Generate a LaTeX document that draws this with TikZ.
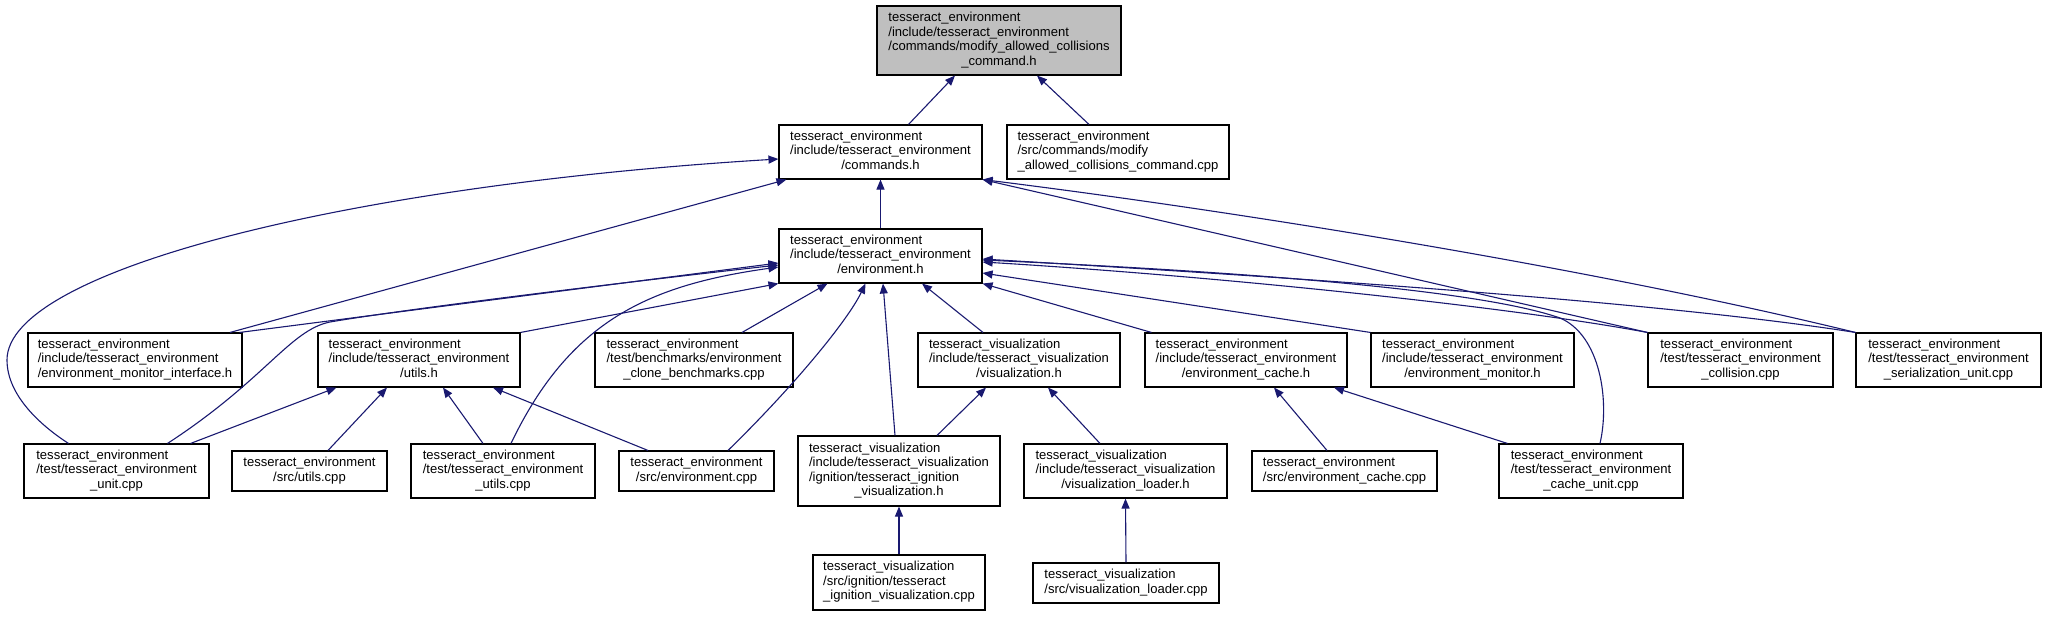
\documentclass[tikz,border=0pt]{standalone}
\usepackage{fontspec}
\setmainfont{Liberation Sans}
\usetikzlibrary{arrows.meta,calc}
\definecolor{edgec}{HTML}{191970}
\definecolor{hil}{HTML}{BFBFBF}
\newcommand{\doxlbl}[2]{\begin{tabular}{@{}l@{}}#1\\\multicolumn{1}{@{}c@{}}{#2}\end{tabular}}
\begin{document}
\begin{tikzpicture}[x=1pt,y=-1pt,
  box/.style={draw=black, line width=1.1pt, fill=white, inner sep=0pt, rectangle,
    font={\fontsize{13.05}{14.5}\selectfont}},
  dep/.style={draw=edgec, line width=1.1pt, {Triangle[length=10pt,width=8pt]}-}]
\useasboundingbox (0,0) rectangle (2046,616);

% row 0
\node[box, fill=hil, minimum width=244pt, minimum height=69pt] (T) at (999,40.5)
  {\doxlbl{tesseract\_environment\\/include/tesseract\_environment\\/commands/modify\_allowed\_collisions}{\_command.h}};
% row 1
\node[box, minimum width=203pt, minimum height=54pt] (C) at (880.5,152)
  {\doxlbl{tesseract\_environment\\/include/tesseract\_environment}{/commands.h}};
\node[box, minimum width=222pt, minimum height=54pt] (M) at (1118,152)
  {\doxlbl{tesseract\_environment\\/src/commands/modify}{\_allowed\_collisions\_command.cpp}};
% row 2
\node[box, minimum width=203pt, minimum height=54pt] (E) at (880.5,256)
  {\doxlbl{tesseract\_environment\\/include/tesseract\_environment}{/environment.h}};
% row 3
\node[box, minimum width=214pt, minimum height=54pt] (emi) at (135,360)
  {\doxlbl{tesseract\_environment\\/include/tesseract\_environment}{/environment\_monitor\_interface.h}};
\node[box, minimum width=202pt, minimum height=54pt] (utilsh) at (419,360)
  {\doxlbl{tesseract\_environment\\/include/tesseract\_environment}{/utils.h}};
\node[box, minimum width=198pt, minimum height=54pt] (bench) at (694,360)
  {\doxlbl{tesseract\_environment\\/test/benchmarks/environment}{\_clone\_benchmarks.cpp}};
\node[box, minimum width=202pt, minimum height=54pt] (vish) at (1019,360)
  {\doxlbl{tesseract\_visualization\\/include/tesseract\_visualization}{/visualization.h}};
\node[box, minimum width=202pt, minimum height=54pt] (cacheh) at (1246,360)
  {\doxlbl{tesseract\_environment\\/include/tesseract\_environment}{/environment\_cache.h}};
\node[box, minimum width=203pt, minimum height=54pt] (monh) at (1472.5,360)
  {\doxlbl{tesseract\_environment\\/include/tesseract\_environment}{/environment\_monitor.h}};
\node[box, minimum width=185pt, minimum height=54pt] (coll) at (1740.5,360)
  {\doxlbl{tesseract\_environment\\/test/tesseract\_environment}{\_collision.cpp}};
\node[box, minimum width=185pt, minimum height=54pt] (ser) at (1948.5,360)
  {\doxlbl{tesseract\_environment\\/test/tesseract\_environment}{\_serialization\_unit.cpp}};
% row 4
\node[box, minimum width=185pt, minimum height=54pt] (unit) at (116.5,471)
  {\doxlbl{tesseract\_environment\\/test/tesseract\_environment}{\_unit.cpp}};
\node[box, minimum width=155pt, minimum height=40pt] (utilscpp) at (309.5,471)
  {\doxlbl{tesseract\_environment}{/src/utils.cpp}};
\node[box, minimum width=184pt, minimum height=54pt] (envutils) at (503,471)
  {\doxlbl{tesseract\_environment\\/test/tesseract\_environment}{\_utils.cpp}};
\node[box, minimum width=155pt, minimum height=40pt] (envcpp) at (696.5,471)
  {\doxlbl{tesseract\_environment}{/src/environment.cpp}};
\node[box, minimum width=202pt, minimum height=70pt] (ignh) at (899,471)
  {\doxlbl{tesseract\_visualization\\/include/tesseract\_visualization\\/ignition/tesseract\_ignition}{\_visualization.h}};
\node[box, minimum width=203pt, minimum height=54pt] (loaderh) at (1125.5,471)
  {\doxlbl{tesseract\_visualization\\/include/tesseract\_visualization}{/visualization\_loader.h}};
\node[box, minimum width=185pt, minimum height=40pt] (cachecpp) at (1344.5,471)
  {\doxlbl{tesseract\_environment}{/src/environment\_cache.cpp}};
\node[box, minimum width=184pt, minimum height=54pt] (cacheunit) at (1591,471)
  {\doxlbl{tesseract\_environment\\/test/tesseract\_environment}{\_cache\_unit.cpp}};
% row 5
\node[box, minimum width=172pt, minimum height=55pt] (igncpp) at (899,582.5)
  {\doxlbl{tesseract\_visualization\\/src/ignition/tesseract}{\_ignition\_visualization.cpp}};
\node[box, minimum width=186pt, minimum height=40pt] (loadercpp) at (1126,583)
  {\doxlbl{tesseract\_visualization}{/src/visualization\_loader.cpp}};

% edges
\draw[dep] ($(T.south)+(-44,0)$) -- ($(C.north)+(28,0)$);
\draw[dep] ($(T.south)+(38,0)$) -- ($(M.north)+(-29,0)$);
\draw[dep] (C.south) -- (E.north);
\draw[dep] ($(C.west)+(0,7)$) .. controls (350,185) and (7,270) .. (7,360)
  .. controls (7,395) and (40,425) .. ($(unit.north)+(-48,0)$);
\draw[dep] ($(C.south west)+(8,0)$) -- ($(emi.north)+(95,0)$);
\draw[dep] (C.south east) -- (coll.north west);
\draw[dep] (C.south east) .. controls (1250,213) and (1600,270) .. (ser.north west);

\draw[dep] ($(E.west)+(0,7)$) -- ($(emi.north east)+(-3,0)$);
\draw[dep] ($(E.west)+(0,9)$) .. controls (600,285) and (400,310) .. (330,322)
  .. controls (290,330) and (265,380) .. ($(unit.north)+(51,0)$);
\draw[dep] (E.south west) -- (utilsh.north east);
\draw[dep] ($(E.west)+(0,11)$) .. controls (650,285) and (570,320) .. ($(envutils.north)+(8,0)$);
\draw[dep] ($(E.south)+(-53,0)$) -- ($(bench.north)+(48,0)$);
\draw[dep] ($(E.south)+(-15,0)$) .. controls (848,320) and (795,385) .. ($(envcpp.north)+(31.5,0)$);
\draw[dep] ($(E.south)+(2.5,0)$) -- ($(ignh.north)+(-4,0)$);
\draw[dep] ($(E.south)+(41.5,0)$) -- ($(vish.north)+(-36,0)$);
\draw[dep] (E.south east) -- ($(cacheh.north west)+(7,0)$);
\draw[dep] ($(E.east)+(0,17)$) -- (monh.north west);
\draw[dep] ($(E.east)+(0,6)$) .. controls (1200,275) and (1500,305) .. (coll.north west);
\draw[dep] ($(E.east)+(0,3)$) .. controls (1250,275) and (1650,300) .. (ser.north west);
\draw[dep] ($(E.east)+(0,4)$) .. controls (1250,272) and (1480,290) .. (1560,318)
  .. controls (1600,335) and (1610,400) .. ($(cacheunit.north)+(9,0)$);

\draw[dep] ($(utilsh.south west)+(19,0)$) -- ($(unit.north east)+(-19,0)$);
\draw[dep] ($(utilsh.south)+(-32,0)$) -- ($(utilscpp.north)+(18.5,0)$);
\draw[dep] ($(utilsh.south)+(24,0)$) -- ($(envutils.north)+(-20,0)$);
\draw[dep] ($(utilsh.south)+(74,0)$) -- ($(envcpp.north)+(-48.5,0)$);

\draw[dep] ($(vish.south)+(-33,0)$) -- ($(ignh.north)+(38,0)$);
\draw[dep] ($(vish.south)+(29,0)$) -- ($(loaderh.north)+(-25.5,0)$);
\draw[dep] ($(cacheh.south)+(28,0)$) -- ($(cachecpp.north)+(-17.5,0)$);
\draw[dep] ($(cacheh.south)+(88,0)$) -- ($(cacheunit.north west)+(9,0)$);
\draw[dep] (ignh.south) -- (igncpp.north);
\draw[dep] (loaderh.south) -- (loadercpp.north);
\end{tikzpicture}
\end{document}
